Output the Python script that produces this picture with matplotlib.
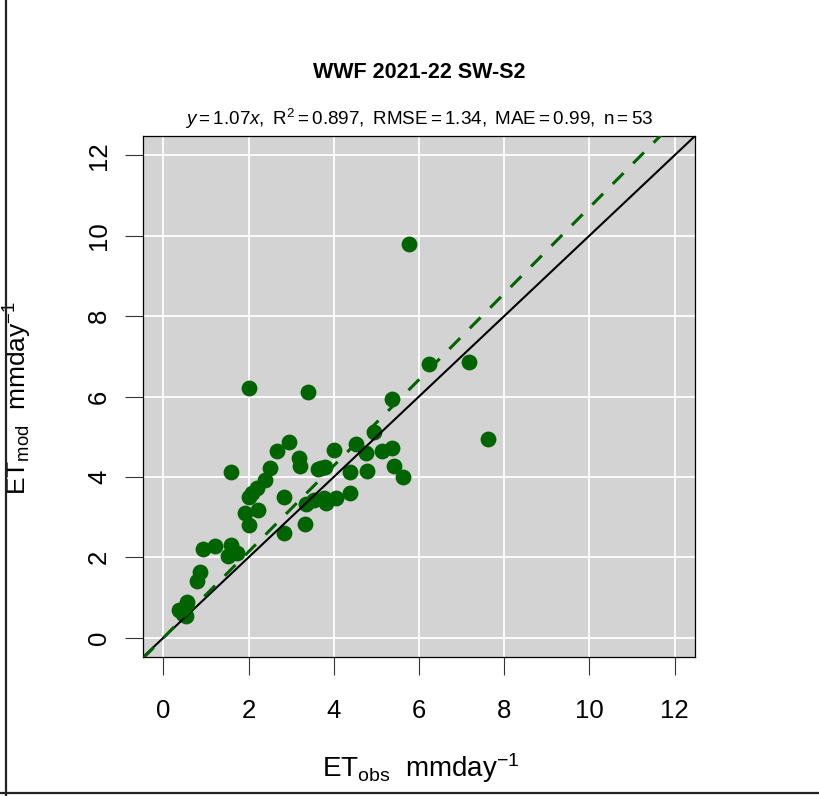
import matplotlib
matplotlib.use("Agg")
import matplotlib.pyplot as plt
from matplotlib.lines import Line2D
import numpy as np

# Observed vs modelled daily ET (mm/day)
et_obs = [5.77, 2.00, 3.39, 6.23, 7.17, 7.63, 5.36, 4.95, 2.94, 2.67,
          3.19, 3.21, 1.58, 2.51, 2.39, 2.20, 2.08, 2.02, 2.84, 2.23,
          1.92, 2.00, 2.82, 3.33, 3.35, 3.54, 3.76, 3.82, 4.06, 4.39,
          3.62, 3.80, 4.01, 4.39, 4.52, 4.75, 4.77, 5.13, 5.37, 5.41,
          5.63, 0.94, 1.21, 1.59, 1.52, 1.72, 0.85, 0.79, 0.55, 0.37,
          0.52, 3.70, 0.45]
et_mod = [9.79, 6.20, 6.10, 6.80, 6.87, 4.95, 5.93, 5.11, 4.88, 4.65,
          4.47, 4.26, 4.12, 4.21, 3.93, 3.72, 3.60, 3.51, 3.49, 3.18,
          3.10, 2.81, 2.61, 2.84, 3.32, 3.42, 3.47, 3.34, 3.47, 3.60,
          4.20, 4.24, 4.66, 4.13, 4.81, 4.60, 4.15, 4.64, 4.71, 4.27,
          4.00, 2.20, 2.27, 2.30, 2.03, 2.11, 1.63, 1.42, 0.90, 0.68,
          0.53, 4.22, 0.60]

slope = 1.07
r2, rmse, mae, n_obs = 0.897, 1.34, 0.99, 53
title = "WWF 2021-22 SW-S2"
ticks = [0, 2, 4, 6, 8, 10, 12]
lim_lo, lim_hi = 0, 12

green = "#006400"

plt.rcParams['font.family'] = 'Liberation Sans'
plt.rcParams['mathtext.fontset'] = 'custom'
plt.rcParams['mathtext.rm'] = 'Liberation Sans'
plt.rcParams['mathtext.it'] = 'Liberation Sans:italic'
plt.rcParams['mathtext.bf'] = 'Liberation Sans:bold'

W, H = 819, 796
fig = plt.figure(figsize=(W / 100, H / 100), dpi=100)
ax = fig.add_axes([143 / W, 139 / H, 552 / W, 521 / H])
ax.set_facecolor('#d3d3d3')

ext = 0.04 * (lim_hi - lim_lo)
ax.set_xlim(lim_lo - ext, lim_hi + ext)
ax.set_ylim(lim_lo - ext, lim_hi + ext)
ax.set_xticks(ticks)
ax.set_yticks(ticks)
ax.set_xticklabels([str(t) for t in ticks])
ax.set_yticklabels([str(t) for t in ticks])
ax.grid(color='white', lw=1.3)
ax.set_axisbelow(True)
for sp in ax.spines.values():
    sp.set_linewidth(0.9)
    sp.set_color('black')
ax.tick_params(length=13, width=0.8, labelsize=18.5, color='#333333')
ax.tick_params(axis='x', pad=17)
ax.tick_params(axis='y', pad=10, labelrotation=90)
for lbl in ax.get_yticklabels():
    lbl.set_verticalalignment('center')

ax.scatter(et_obs, et_mod, s=130, c=green, linewidths=0, zorder=3)

xs = np.array(ax.get_xlim())
ax.plot(xs, xs, color='black', lw=1.5, zorder=4)
ax.plot(xs, slope * xs, color=green, lw=2.2, ls=(0, (5, 4.5)), zorder=4)

fig.text(419 / W, 1 - 72 / H, title, ha='center', va='center',
         fontsize=15.5, weight='bold')
sub = (r"$y = %.2fx,\ \mathrm{R}^{2} = %.3f,\ \mathrm{RMSE} = %.2f,"
       r"\ \mathrm{MAE} = %.2f,\ \mathrm{n} = %d$" % (slope, r2, rmse, mae, n_obs))
fig.text(419 / W, 1 - 119 / H, sub, ha='center', va='center', fontsize=13.6)

fig.text(421 / W, 1 - 768 / H, r"$\mathrm{ET_{obs}}\ \ \mathrm{mmday^{-1}}$",
         ha='center', va='center', fontsize=20)
fig.text(18 / W, 1 - 398 / H, r"$\mathrm{ET_{mod}}\ \ \mathrm{mmday^{-1}}$",
         ha='center', va='center', fontsize=19, rotation=90)

# page frame lines
fig.add_artist(Line2D([5.5 / W, 5.5 / W], [0, 1], transform=fig.transFigure,
                      color='#222222', lw=1.6, zorder=10))
fig.add_artist(Line2D([0, 1], [1 - 792.5 / H, 1 - 792.5 / H], transform=fig.transFigure,
                      color='#222222', lw=1.6, zorder=10))

fig.savefig("out.png", dpi=100)
